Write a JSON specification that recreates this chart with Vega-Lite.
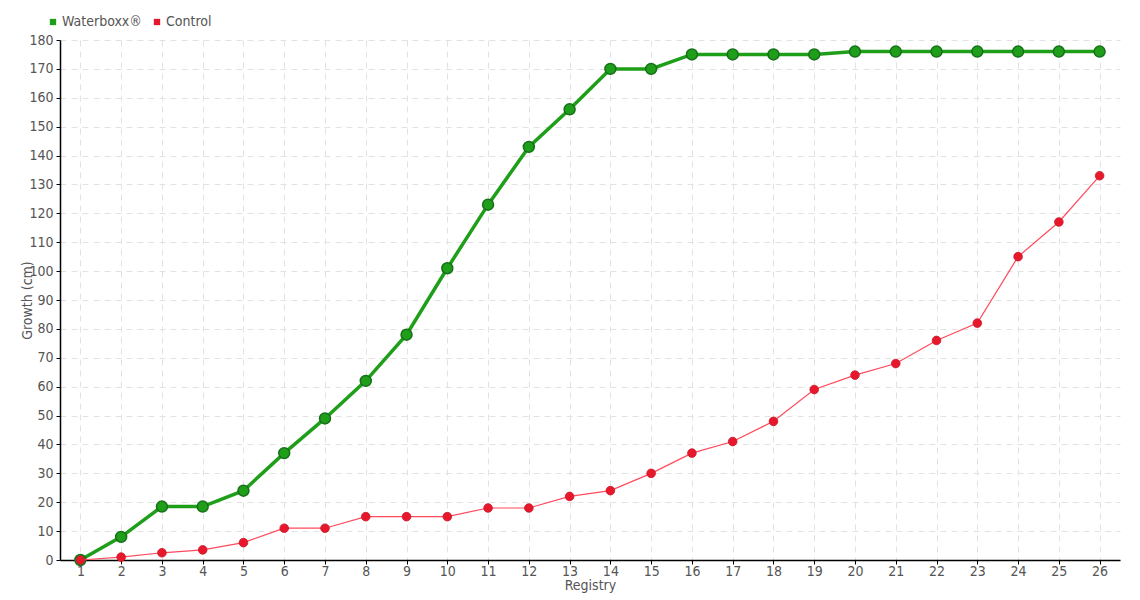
{
  "$schema": "https://vega.github.io/schema/vega-lite/v6.json",
  "width": 1060,
  "height": 520,
  "autosize": {"type": "none"},
  "padding": {"left": 60, "top": 40, "right": 20, "bottom": 40},
  "background": "white",
  "config": {
    "font": "DejaVu Sans Condensed, Roboto, sans-serif",
    "view": {"stroke": null},
    "axis": {
      "labelFont": "DejaVu Sans Condensed, Roboto, sans-serif",
      "titleFont": "DejaVu Sans Condensed, Roboto, sans-serif",
      "labelFontSize": 14,
      "labelColor": "#555555",
      "titleColor": "#555555",
      "titleFontSize": 14,
      "titleFontWeight": "normal",
      "domainColor": "#000000",
      "domainWidth": 1.5,
      "tickColor": "#000000",
      "tickSize": 4,
      "gridColor": "#e2e2e2",
      "gridDash": [6, 5],
      "gridWidth": 1
    },
    "legend": {"labelFont": "DejaVu Sans Condensed, Roboto, sans-serif", "labelFontSize": 14, "labelColor": "#555555"}
  },
  "data": {
    "values": [
      {"registry": 1, "series": "Waterboxx®", "growth": 0},
      {"registry": 2, "series": "Waterboxx®", "growth": 8},
      {"registry": 3, "series": "Waterboxx®", "growth": 18.5},
      {"registry": 4, "series": "Waterboxx®", "growth": 18.5},
      {"registry": 5, "series": "Waterboxx®", "growth": 24},
      {"registry": 6, "series": "Waterboxx®", "growth": 37},
      {"registry": 7, "series": "Waterboxx®", "growth": 49},
      {"registry": 8, "series": "Waterboxx®", "growth": 62},
      {"registry": 9, "series": "Waterboxx®", "growth": 78},
      {"registry": 10, "series": "Waterboxx®", "growth": 101},
      {"registry": 11, "series": "Waterboxx®", "growth": 123},
      {"registry": 12, "series": "Waterboxx®", "growth": 143},
      {"registry": 13, "series": "Waterboxx®", "growth": 156},
      {"registry": 14, "series": "Waterboxx®", "growth": 170},
      {"registry": 15, "series": "Waterboxx®", "growth": 170},
      {"registry": 16, "series": "Waterboxx®", "growth": 175},
      {"registry": 17, "series": "Waterboxx®", "growth": 175},
      {"registry": 18, "series": "Waterboxx®", "growth": 175},
      {"registry": 19, "series": "Waterboxx®", "growth": 175},
      {"registry": 20, "series": "Waterboxx®", "growth": 176},
      {"registry": 21, "series": "Waterboxx®", "growth": 176},
      {"registry": 22, "series": "Waterboxx®", "growth": 176},
      {"registry": 23, "series": "Waterboxx®", "growth": 176},
      {"registry": 24, "series": "Waterboxx®", "growth": 176},
      {"registry": 25, "series": "Waterboxx®", "growth": 176},
      {"registry": 26, "series": "Waterboxx®", "growth": 176},
      {"registry": 1, "series": "Control", "growth": 0},
      {"registry": 2, "series": "Control", "growth": 1},
      {"registry": 3, "series": "Control", "growth": 2.5},
      {"registry": 4, "series": "Control", "growth": 3.5},
      {"registry": 5, "series": "Control", "growth": 6},
      {"registry": 6, "series": "Control", "growth": 11},
      {"registry": 7, "series": "Control", "growth": 11},
      {"registry": 8, "series": "Control", "growth": 15},
      {"registry": 9, "series": "Control", "growth": 15},
      {"registry": 10, "series": "Control", "growth": 15},
      {"registry": 11, "series": "Control", "growth": 18},
      {"registry": 12, "series": "Control", "growth": 18},
      {"registry": 13, "series": "Control", "growth": 22},
      {"registry": 14, "series": "Control", "growth": 24},
      {"registry": 15, "series": "Control", "growth": 30},
      {"registry": 16, "series": "Control", "growth": 37},
      {"registry": 17, "series": "Control", "growth": 41},
      {"registry": 18, "series": "Control", "growth": 48},
      {"registry": 19, "series": "Control", "growth": 59},
      {"registry": 20, "series": "Control", "growth": 64},
      {"registry": 21, "series": "Control", "growth": 68},
      {"registry": 22, "series": "Control", "growth": 76},
      {"registry": 23, "series": "Control", "growth": 82},
      {"registry": 24, "series": "Control", "growth": 105},
      {"registry": 25, "series": "Control", "growth": 117},
      {"registry": 26, "series": "Control", "growth": 133}
    ]
  },
  "encoding": {
    "x": {
      "field": "registry",
      "type": "quantitative",
      "scale": {"domain": [0.5, 26.5], "nice": false, "zero": false},
      "axis": {
        "title": "Registry",
        "values": [1,2,3,4,5,6,7,8,9,10,11,12,13,14,15,16,17,18,19,20,21,22,23,24,25,26],
        "format": "d",
        "labelPadding": 0,
        "titlePadding": 0
      }
    },
    "y": {
      "field": "growth",
      "type": "quantitative",
      "scale": {"domain": [0, 180], "nice": false},
      "axis": {
        "title": "Growth (cm)",
        "values": [0,10,20,30,40,50,60,70,80,90,100,110,120,130,140,150,160,170,180],
        "labelPadding": 3,
        "titlePadding": -6
      }
    },
    "color": {
      "field": "series",
      "type": "nominal",
      "scale": {"domain": ["Waterboxx®", "Control"], "range": ["#1f9e1a", "#e8182c"]},
      "legend": {
        "title": null,
        "orient": "none",
        "direction": "horizontal",
        "legendX": -14,
        "legendY": -25,
        "symbolType": "square",
        "symbolSize": 40,
        "symbolStrokeWidth": 0,
        "labelOffset": 2,
        "columnPadding": 8
      }
    }
  },
  "layer": [
    {
      "transform": [{"filter": "datum.series === 'Waterboxx®'"}],
      "mark": {"type": "line", "strokeWidth": 3.5}
    },
    {
      "transform": [{"filter": "datum.series === 'Waterboxx®'"}],
      "mark": {"type": "point", "filled": true, "size": 120, "opacity": 1, "stroke": "#16701a", "strokeWidth": 1.5}
    },
    {
      "transform": [{"filter": "datum.series === 'Control'"}],
      "mark": {"type": "line", "strokeWidth": 1.2, "stroke": "#ff4a5c"}
    },
    {
      "transform": [{"filter": "datum.series === 'Control'"}],
      "mark": {"type": "point", "filled": true, "size": 75, "opacity": 1, "stroke": "#c8182a", "strokeWidth": 0.8}
    }
  ]
}
